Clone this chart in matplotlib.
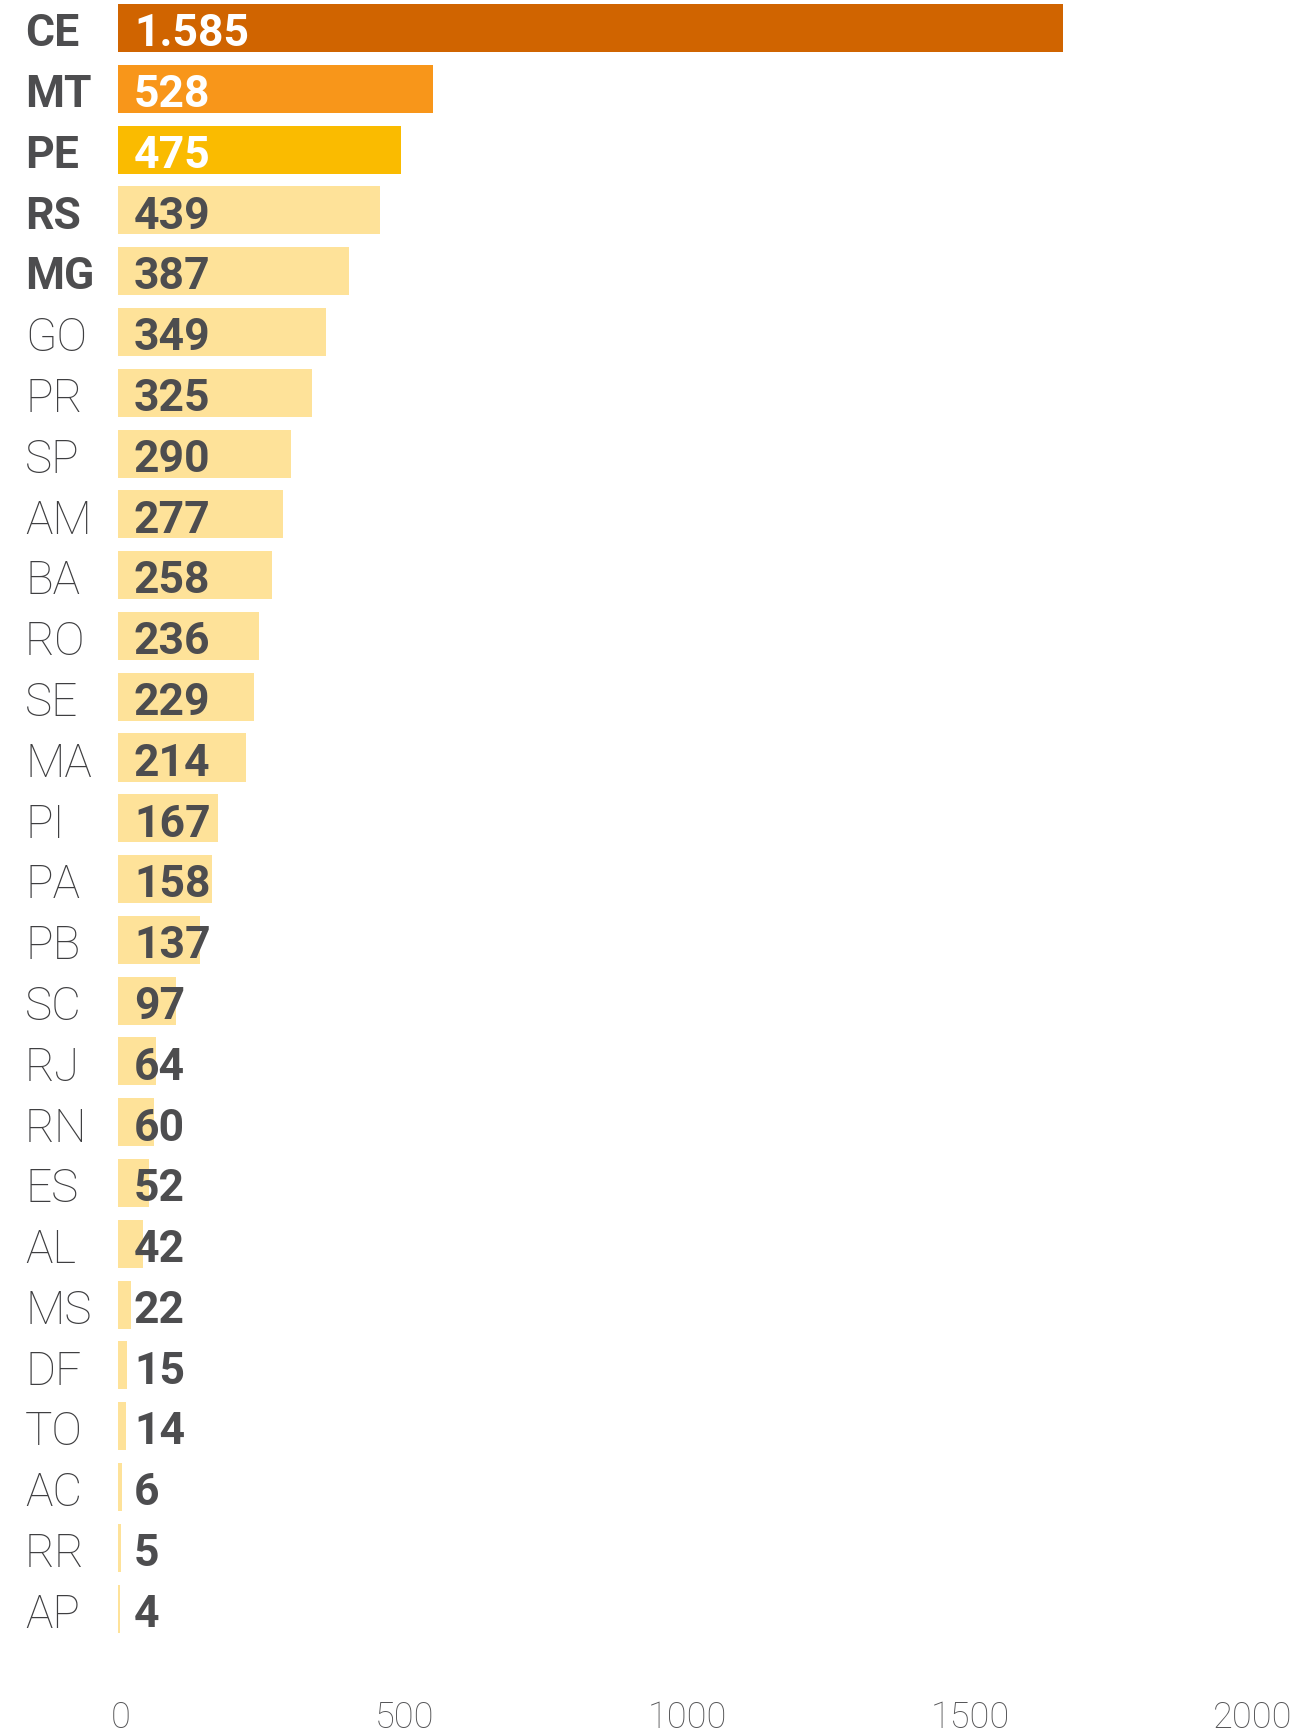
import matplotlib.pyplot as plt

# Daten
states = ['CE', 'MT', 'PE', 'RS', 'MG', 'GO', 'PR', 'SP', 'AM', 'BA', 'RO', 'SE', 'MA', 'PI',
          'PA', 'PB', 'SC', 'RJ', 'RN', 'ES', 'AL', 'MS', 'DF', 'TO', 'AC', 'RR', 'AP']
values = [1585, 528, 475, 439, 387, 349, 325, 290, 277, 258, 236, 229, 214, 167,
          158, 137, 97, 64, 60, 52, 42, 22, 15, 14, 6, 5, 4]
value_labels = ['1.585', '528', '475', '439', '387', '349', '325', '290', '277', '258', '236',
                '229', '214', '167', '158', '137', '97', '64', '60', '52', '42', '22', '15',
                '14', '6', '5', '4']
ticks = [0, 500, 1000, 1500, 2000]

bar_colors = ['#D06400', '#F8961A', '#FABB00'] + ['#FEE299'] * (len(states) - 3)
text_dark = '#4D4D4F'
n_bold = 5

W, H = 1310, 1735
fig = plt.figure(figsize=(W / 100, H / 100), dpi=100)

# Balken-Achse
top_px, bottom_px = 0, 1639
ax = fig.add_axes([118 / W, 1 - bottom_px / H, 1 - 118 / W, (bottom_px - top_px) / H])
y = list(range(len(states)))
ax.barh(y, values, height=0.79, color=bar_colors, align='center')
ax.set_xlim(0, 2000)
ax.set_ylim(26.5, -0.46)
ax.axis('off')

for i, (v, lab) in enumerate(zip(values, value_labels)):
    c = 'white' if i < 3 else text_dark
    ax.annotate(lab, (0, i), xytext=(11.5, -4.5), textcoords='offset points',
                ha='left', va='center', fontsize=32, fontweight='bold',
                family=['Roboto', 'DejaVu Sans'], color=c)

# Staaten-Beschriftung
for i, s in enumerate(states):
    bold = i < n_bold
    ax.annotate(s, (0, i), xytext=(-93 * 72 / 100, -4.5), textcoords='offset points',
                ha='left', va='center', fontsize=33 if not bold else 32,
                fontweight='bold' if bold else 'light',
                family=['Roboto', 'DejaVu Sans'],
                color=text_dark if bold else '#3F3F41')

# Achsenbeschriftung unten
tax = fig.add_axes([121 / W, 1 - 1700 / H, (1253 - 121) / W, 0.0005])
tax.set_xlim(0, 2000)
tax.set_xticks(ticks)
tax.set_xticklabels([str(t) for t in ticks])
tax.set_yticks([])
for sp in tax.spines.values():
    sp.set_visible(False)
tax.tick_params(axis='x', length=0, pad=0, labelsize=26, labelcolor='#555557')
for t in tax.get_xticklabels():
    t.set_family(['Roboto', 'DejaVu Sans'])
    t.set_fontweight('light')

fig.savefig('out.png', dpi=100)
